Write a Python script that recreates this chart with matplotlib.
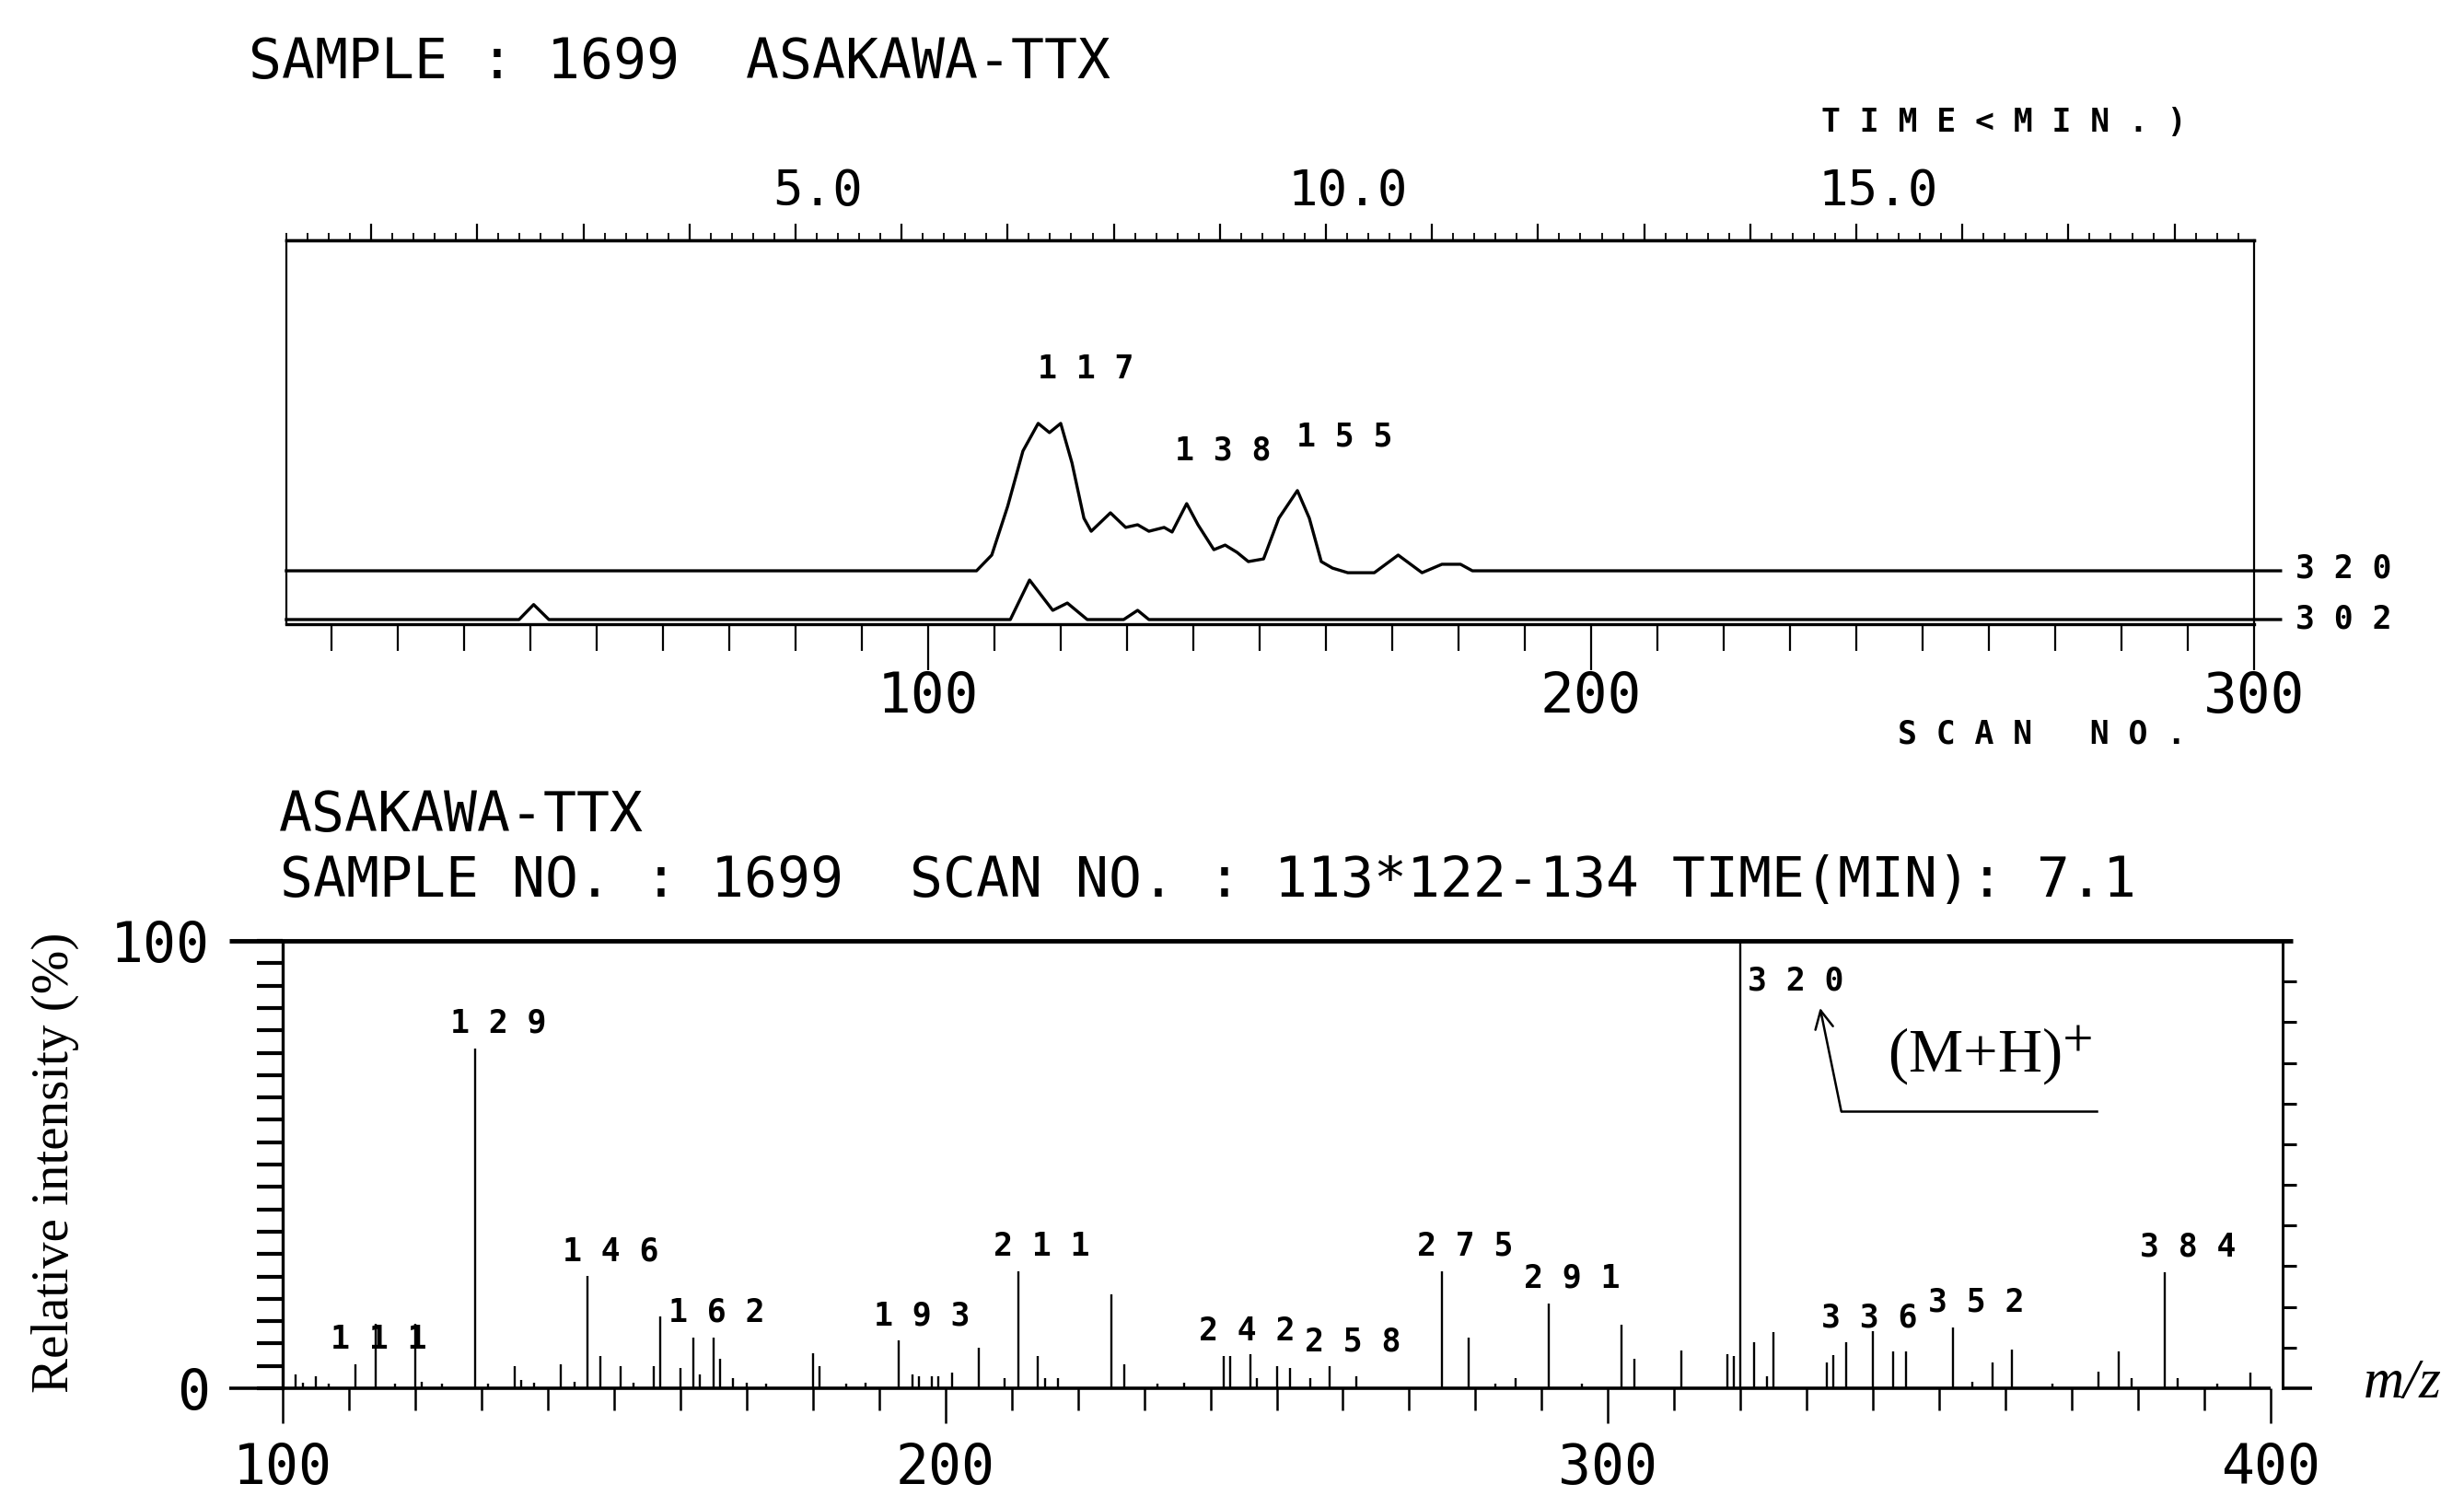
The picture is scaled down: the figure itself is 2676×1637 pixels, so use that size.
import numpy as np
import matplotlib.pyplot as plt
from matplotlib.ticker import MultipleLocator, FixedLocator, NullFormatter, FuncFormatter
from matplotlib.transforms import offset_copy

# ion chromatograms: scan no. vs response (% of panel height)
scan_320 = [3.2, 107.3, 109.6, 112.0, 114.3, 116.6, 118.3, 120.0, 121.7, 123.5,
            124.6, 127.5, 129.8, 131.6, 133.3, 135.6, 136.8, 139.0, 140.7, 143.1,
            144.8, 146.6, 148.3, 150.6, 152.9, 155.7, 157.5, 159.3, 161.0, 163.3,
            167.3, 170.9, 174.5, 177.5, 180.3, 182.1, 304.0]
resp_320 = [13.9, 13.9, 18.0, 30.7, 45.1, 52.3, 49.9, 52.3, 42.0, 27.6,
            24.2, 29.0, 25.2, 25.9, 24.2, 25.2, 24.0, 31.4, 25.9, 19.4,
            20.6, 18.7, 16.3, 17.0, 27.6, 34.8, 27.6, 16.3, 14.6, 13.4,
            13.4, 18.0, 13.4, 15.6, 15.6, 13.9, 13.9]
scan_302 = [3.2, 38.3, 40.5, 42.8, 112.4, 115.3, 118.8, 121.0, 124.0, 129.5, 131.6, 133.3, 304.0]
resp_302 = [1.2, 1.2, 5.1, 1.2, 1.2, 11.5, 3.6, 5.5, 1.2, 1.2, 3.6, 1.2, 1.2]

chrom_labels = ["117", "138", "155"]
chrom_label_x = [116.6, 137.2, 155.6]
chrom_label_y = [66.4, 45.1, 48.9]

time_labels = [5.0, 10.0, 15.0]
scans_per_min = 16.0

# mass spectrum
mz = [102, 103, 105, 107, 111, 114, 117, 120, 121, 124,
      129, 131, 135, 136, 138, 142, 144, 146, 148, 151,
      153, 156, 157, 160, 162, 163, 165, 166, 168, 170,
      173, 180, 181, 185, 188, 193, 195, 196, 198, 199,
      201, 205, 209, 211, 214, 215, 217, 225, 227, 232,
      236, 242, 243, 246, 247, 250, 252, 255, 258, 262,
      275, 279, 283, 286, 291, 296, 302, 304, 311, 318,
      319, 320, 322, 324, 325, 333, 334, 336, 340, 343,
      345, 352, 355, 358, 361, 367, 374, 377, 379, 384,
      386, 392, 397]
rel_int = [3.0, 1.2, 2.7, 1.0, 5.3, 14.4, 1.0, 14.4, 1.5, 1.0,
           76.0, 1.0, 4.9, 1.9, 1.2, 5.3, 1.5, 25.1, 7.2, 4.9,
           1.2, 4.9, 16.0, 4.6, 11.4, 3.0, 11.4, 6.5, 2.3, 1.2,
           1.0, 7.9, 4.9, 1.0, 1.2, 10.6, 3.0, 2.7, 2.7, 2.7,
           3.4, 9.1, 2.3, 26.2, 7.2, 2.3, 2.3, 20.9, 5.3, 1.0,
           1.2, 7.2, 7.2, 7.6, 2.3, 4.9, 4.6, 2.3, 4.9, 2.7,
           26.2, 11.4, 1.0, 2.3, 19.0, 1.0, 14.1, 6.5, 8.4, 7.6,
           7.2, 100.0, 10.3, 2.7, 12.5, 5.7, 7.5, 10.2, 12.8, 8.3,
           8.3, 13.6, 1.5, 5.7, 8.7, 1.0, 3.8, 8.3, 2.3, 26.0,
           2.3, 1.0, 3.4]
labelled = [111, 129, 146, 162, 193, 211, 242, 258, 275, 291, 336, 352, 384]

mono = 'DejaVu Sans Mono'
serif = 'Liberation Serif'
plt.rcParams['mathtext.fontset'] = 'stix'

W, H = 2676, 1637
fig = plt.figure(figsize=(W / 100, H / 100), dpi=100)

def box(l, t, r, b):
    return [l / W, 1 - b / H, (r - l) / W, (b - t) / H]

def spaced(s):
    return ' '.join(s)

# ---- top: chromatogram ----
ax1 = fig.add_axes(box(311, 261, 2448, 678))
ax1.plot(scan_320, resp_320, color='k', lw=2.4, clip_on=False)
ax1.plot(scan_302, resp_302, color='k', lw=2.4, clip_on=False)
ax1.set_xlim(3.2, 300)
ax1.set_ylim(0, 100)
ax1.set_yticks([])
for s in ['left', 'right']:
    ax1.spines[s].set_linewidth(1.6)
ax1.spines['top'].set_linewidth(2.4)
ax1.spines['bottom'].set_linewidth(2.4)
ax1.xaxis.set_major_locator(FixedLocator([100, 200, 300]))
ax1.xaxis.set_minor_locator(MultipleLocator(10))
ax1.tick_params(axis='x', which='major', length=36, width=1.6, pad=0, labelsize=44)
ax1.tick_params(axis='x', which='minor', length=21, width=1.6)
for lab in ax1.get_xticklabels():
    lab.set_family(mono)

sec = ax1.secondary_xaxis('top', functions=(lambda s: s / scans_per_min, lambda t: t * scans_per_min))
sec.xaxis.set_major_locator(MultipleLocator(1))
sec.xaxis.set_minor_locator(MultipleLocator(0.2))
sec.xaxis.set_major_formatter(NullFormatter())
sec.tick_params(which='major', length=13, width=1.6)
sec.tick_params(which='minor', length=6, width=1.3)
sec.spines['top'].set_linewidth(2.4)

tr_time = offset_copy(ax1.get_xaxis_transform(), fig=fig, x=24, y=0, units='dots')
for t in time_labels:
    ax1.text(t * scans_per_min, 1.127, f'{t:.1f}', transform=tr_time, family=mono,
             fontsize=39, ha='center', va='center')

for txt, x, y in zip(chrom_labels, chrom_label_x, chrom_label_y):
    ax1.text(x, y, spaced(txt), family=mono, fontsize=25, fontweight='bold', ha='left', va='center')
ax1.text(306.3, resp_320[-1] + 0.5, spaced("320"), family=mono, fontsize=25, fontweight='bold',
         ha='left', va='center')
ax1.text(306.3, resp_302[-1], spaced("302"), family=mono, fontsize=25, fontweight='bold',
         ha='left', va='center')

fig.text(270 / W, 1 - 68 / H, "SAMPLE : 1699  ASAKAWA-TTX", family=mono, fontsize=43, va='center')
fig.text(2176 / W, 1 - 133 / H, spaced("TIME<MIN.)"), family=mono, fontsize=25, fontweight='bold',
         ha='center', va='center')
fig.text(2218 / W, 1 - 797 / H, "S C A N   N O .", family=mono, fontsize=25, fontweight='bold',
         ha='center', va='center')

# ---- bottom: mass spectrum ----
ax2 = fig.add_axes(box(307, 1022, 2479, 1508))
ax2.set_xlim(100, 401.8)
ax2.set_ylim(0, 100)
ax2.vlines(mz, 0, rel_int, color='k', lw=1.7)
ax2.plot([91.9, 403.3], [100, 100], color='k', lw=3.5, clip_on=False, solid_capstyle='butt')
ax2.plot([91.9, 400], [0, 0], color='k', lw=2.6, clip_on=False, solid_capstyle='butt')
ax2.plot([401.8, 406.3], [0, 0], color='k', lw=2.6, clip_on=False, solid_capstyle='butt')
ax2.spines['top'].set_visible(False)
ax2.spines['bottom'].set_visible(False)
ax2.spines['left'].set_linewidth(2.4)
ax2.spines['right'].set_linewidth(2.0)

ax2.xaxis.set_major_locator(FixedLocator([100, 200, 300, 400]))
ax2.xaxis.set_minor_locator(MultipleLocator(10))
ax2.tick_params(axis='x', which='major', length=27, width=1.8, pad=15, labelsize=43)
ax2.tick_params(axis='x', which='minor', length=17, width=1.8)
ax2.yaxis.set_major_locator(FixedLocator(np.arange(0, 101, 5)))
ax2.yaxis.set_major_formatter(FuncFormatter(lambda v, p: f'{v:.0f}' if v in (0, 100) else ''))
ax2.tick_params(axis='y', which='major', left=True, length=20, width=3, pad=37, labelsize=43)
for lab in ax2.get_xticklabels() + ax2.get_yticklabels():
    lab.set_family(mono)

rax = ax2.secondary_yaxis('right')
rax.yaxis.set_major_locator(FixedLocator([100 * k / 11 for k in range(1, 11)]))
rax.yaxis.set_major_formatter(NullFormatter())
rax.tick_params(length=11, width=2.2)
rax.spines['right'].set_linewidth(2.0)

inten = dict(zip(mz, rel_int))
for m in labelled:
    ax2.annotate(spaced(str(m)), xy=(m, inten[m]), xytext=(-27, 27), textcoords='offset pixels',
                 family=mono, fontsize=25, fontweight='bold', ha='left', va='center')
ax2.annotate(spaced("320"), xy=(320, 100), xytext=(8, -43), textcoords='offset pixels',
             family=mono, fontsize=25, fontweight='bold', ha='left', va='center')

ax2.annotate('', xy=(332.0, 85.0), xytext=(335.2, 61.9),
             arrowprops=dict(arrowstyle='->', lw=1.8, color='k', mutation_scale=35, shrinkA=0, shrinkB=0))
ax2.plot([335.2, 373.7], [61.9, 61.9], color='k', lw=1.8)
ax2.text(342.2, 74.1, r'(M+H)$^{+}$', family=serif, fontsize=48, ha='left', va='center')

fig.text(60 / W, 1 - 1263 / H, "Relative intensity (%)", family=serif, fontsize=41,
         rotation=90, ha='center', va='center')
fig.text(2609 / W, 1 - 1503 / H, "m/z", family=serif, style='italic', fontsize=44,
         ha='center', va='center')

fig.text(303 / W, 1 - 886 / H, "ASAKAWA-TTX", family=mono, fontsize=43, va='center')
fig.text(304 / W, 1 - 958 / H, "SAMPLE NO. : 1699  SCAN NO. : 113*122-134 TIME(MIN): 7.1",
         family=mono, fontsize=43, va='center')

fig.savefig('out.png', dpi=100)
